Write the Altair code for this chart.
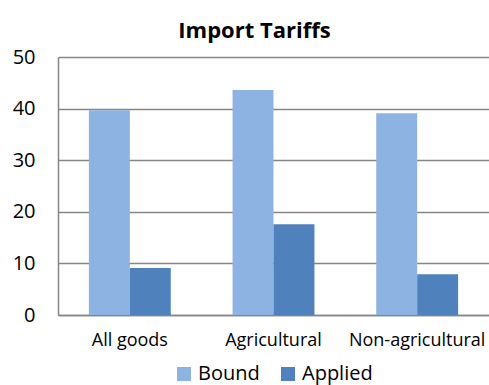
import altair as alt
import pandas as pd

categories = ["All goods", "Agricultural", "Non-agricultural"]
series = ["Bound", "Applied"]
bound = [39.7, 43.6, 39.1]
applied = [9.1, 17.6, 7.9]

rows = []
for c, b, a in zip(categories, bound, applied):
    rows.append({"category": c, "series": "Bound", "value": b})
    rows.append({"category": c, "series": "Applied", "value": a})
df = pd.DataFrame(rows)

FONT = "Open Sans"

chart = alt.Chart(df).mark_bar().encode(
    x=alt.X("category:N", sort=categories, title=None,
            scale=alt.Scale(paddingInner=0.43, paddingOuter=0.215),
            axis=alt.Axis(labelAngle=0, labelFontSize=18, labelColor="#000000",
                          labelPadding=16, ticks=False, domainColor="#868686",
                          domainWidth=1.5, labelFont=FONT)),
    xOffset=alt.XOffset("series:N", sort=series),
    y=alt.Y("value:Q", title=None,
            scale=alt.Scale(domain=[0, 50]),
            axis=alt.Axis(values=[0, 10, 20, 30, 40, 50], labelFontSize=20,
                          labelColor="#000000", labelPadding=23, ticks=False,
                          domainColor="#868686", domainWidth=1.5,
                          gridColor="#868686", gridWidth=1.5, labelFont=FONT)),
    color=alt.Color("series:N", sort=series,
                    scale=alt.Scale(domain=series, range=["#8DB3E2", "#4F81BD"]),
                    legend=alt.Legend(title=None, orient="none", direction="horizontal",
                                      legendX=116, legendY=307, symbolType="square",
                                      symbolSize=196, symbolStrokeWidth=0,
                                      labelFontSize=20, labelFont=FONT,
                                      labelColor="#000000", columnPadding=18,
                                      labelOffset=4, symbolOpacity=1)),
).properties(
    width=431, height=258,
    title=alt.Title("Import Tariffs", fontSize=22, font=FONT, fontWeight="bold",
                    color="#000000", offset=4, dx=-19),
    autosize=alt.AutoSizeParams(type="none"),
    padding={"left": 58, "top": 57, "right": 0, "bottom": 70},
).configure_view(stroke=None)

chart.save("out.html", embed_options={"renderer": "svg", "actions": False})
